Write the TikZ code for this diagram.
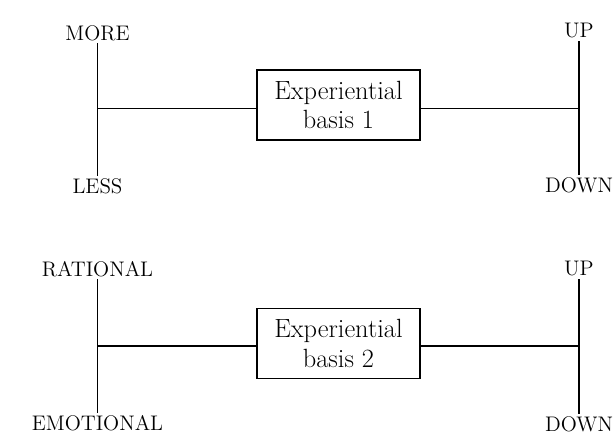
\documentclass[tikz,border=0pt]{standalone}
\begin{document}
\begin{tikzpicture}[lbl/.style={inner sep=1.3pt,font=\fontsize{12}{14}\selectfont},
  basis/.style={draw,line width=1pt,minimum width=3.27cm,minimum height=1.4cm,align=center,inner sep=0pt,font=\fontsize{15}{17}\selectfont},
  axis/.style={line width=1pt}]
\useasboundingbox (0,0) rectangle (12.32,8.9);
% first basis
\node[lbl] (more) at (1.95,8.24) {MORE};
\node[lbl] (less) at (1.95,5.18) {LESS};
\node[lbl] (up1) at (11.58,8.28) {UP};
\node[lbl] (down1) at (11.58,5.19) {DOWN};
\node[basis] (b1) at (6.77,6.8) {Experiential\\basis 1};
\coordinate (j1) at (1.95,6.73);
\draw[axis] (more) -- (less);
\draw[axis] (up1) -- (down1);
\draw[axis] (j1) -- (j1 -| b1.west);
\draw[axis] (j1 -| b1.east) -- (j1 -| up1);
% second basis
\node[lbl] (rat) at (1.95,3.52) {RATIONAL};
\node[lbl] (emo) at (1.95,0.44) {EMOTIONAL};
\node[lbl] (up2) at (11.58,3.52) {UP};
\node[lbl] (down2) at (11.58,0.42) {DOWN};
\node[basis] (b2) at (6.77,2.03) {Experiential\\basis 2};
\coordinate (j2) at (1.95,1.98);
\draw[axis] (rat) -- (emo);
\draw[axis] (up2) -- (down2);
\draw[axis] (j2) -- (j2 -| b2.west);
\draw[axis] (j2 -| b2.east) -- (j2 -| up2);
\end{tikzpicture}
\end{document}
